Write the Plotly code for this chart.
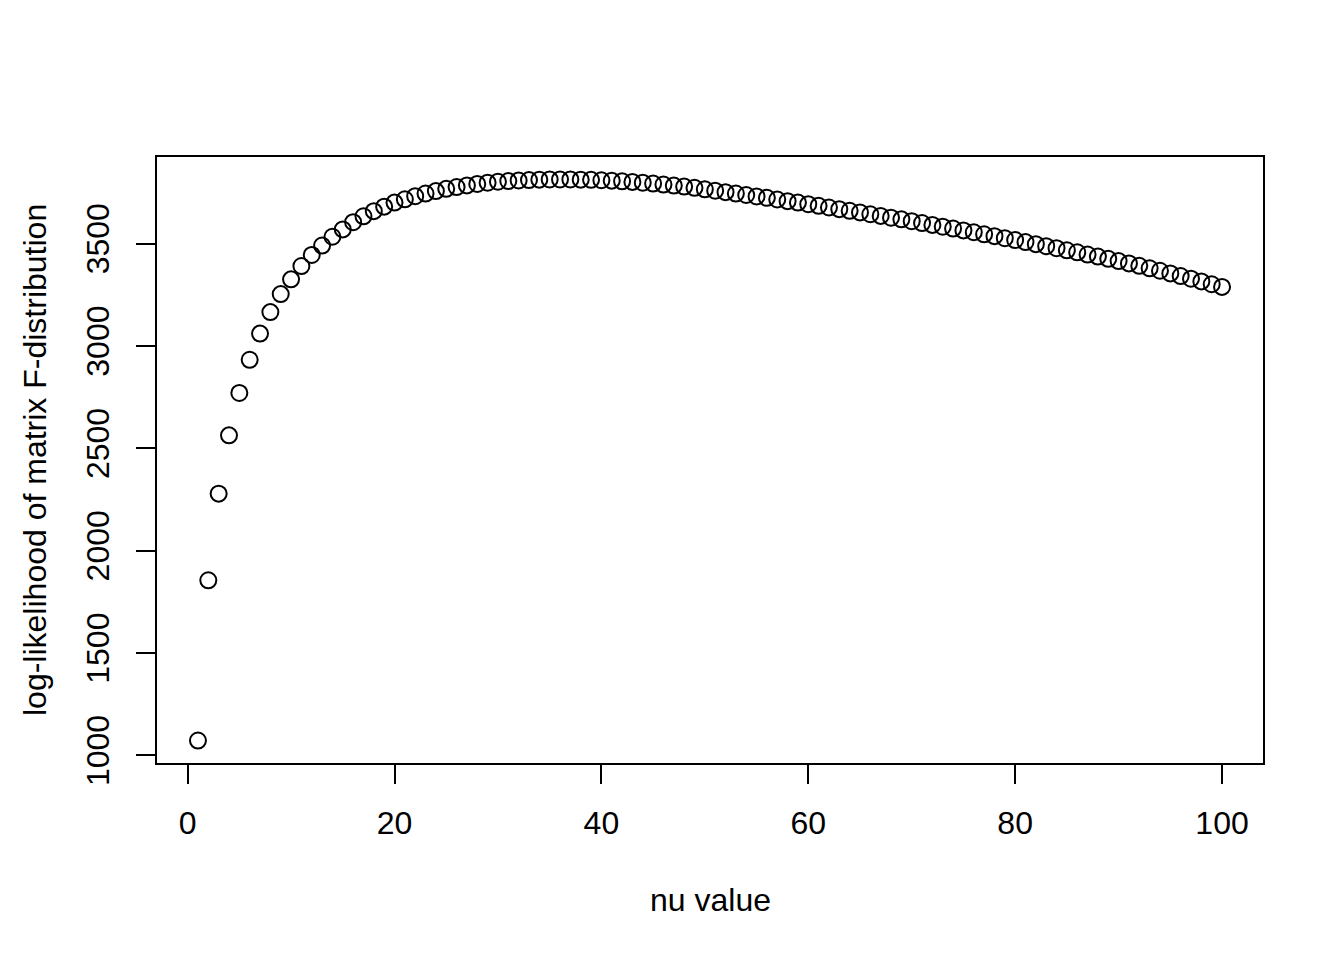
import plotly.graph_objects as go

nu_values = list(range(1, 101))

log_likelihood = [
    1072, 1855, 2278, 2563, 2770, 2932, 3060, 3165, 3253, 3325,
    3390, 3444, 3490, 3533, 3569, 3604, 3633, 3658, 3680, 3700,
    3716, 3731, 3744, 3756, 3767, 3776, 3784, 3791, 3797, 3802,
    3805, 3808, 3810, 3812, 3813, 3813, 3813, 3812, 3811, 3809,
    3807, 3804, 3801, 3797, 3793, 3788, 3783, 3778, 3772, 3765,
    3758, 3751, 3744, 3737, 3730, 3723, 3715, 3707, 3700, 3692,
    3684, 3676, 3668, 3660, 3652, 3643, 3635, 3626, 3618, 3609,
    3600, 3591, 3582, 3573, 3564, 3555, 3545, 3536, 3526, 3517,
    3507, 3497, 3487, 3477, 3467, 3457, 3446, 3436, 3425, 3414,
    3403, 3391, 3379, 3367, 3354, 3341, 3328, 3315, 3301, 3288,
]

x_ticks = [0, 20, 40, 60, 80, 100]
y_ticks = [1000, 1500, 2000, 2500, 3000, 3500]

x_title = "nu value"
y_title = "log-likelihood of matrix F-distribution"

FONT = "Liberation Sans, Arial, Helvetica, sans-serif"

fig = go.Figure()
fig.add_trace(go.Scatter(
    x=nu_values,
    y=log_likelihood,
    mode="markers",
    marker=dict(symbol="circle-open", size=16, color="black",
                line=dict(width=2, color="black")),
    hoverinfo="x+y",
))

def ext(lo, hi):
    d = (hi - lo) * 0.04
    return [lo - d, hi + d]

fig.update_layout(
    width=1336, height=952, autosize=False,
    margin=dict(l=149, r=81, t=149, b=197, pad=0),
    paper_bgcolor="white", plot_bgcolor="white",
    font=dict(family=FONT, size=32, color="black"),
    showlegend=False,
    xaxis=dict(
        range=ext(min(nu_values), max(nu_values)),
        tickvals=x_ticks, ticks="outside", ticklen=19, tickwidth=2,
        tickcolor="black", showline=True, linecolor="black", linewidth=2,
        mirror=True, showgrid=False, zeroline=False,
        tickfont=dict(family=FONT, size=32), ticklabelstandoff=12,
    ),
    yaxis=dict(
        range=ext(min(log_likelihood), max(log_likelihood)),
        tickvals=y_ticks, ticks="outside", ticklen=19, tickwidth=2,
        tickcolor="black", showline=True, linecolor="black", linewidth=2,
        mirror=True, showgrid=False, zeroline=False, tickangle=-90,
        tickfont=dict(family=FONT, size=32), ticklabelstandoff=14,
    ),
    annotations=[
        dict(text=x_title, xref="paper", yref="paper", x=0.5, y=0,
             xanchor="center", yanchor="middle", yshift=-137,
             showarrow=False, font=dict(family=FONT, size=32)),
        dict(text=y_title, xref="paper", yref="paper", x=0, y=0.5,
             xanchor="center", yanchor="middle", xshift=-122, textangle=-90,
             showarrow=False, font=dict(family=FONT, size=32)),
    ],
)

fig.write_html("out.html")
